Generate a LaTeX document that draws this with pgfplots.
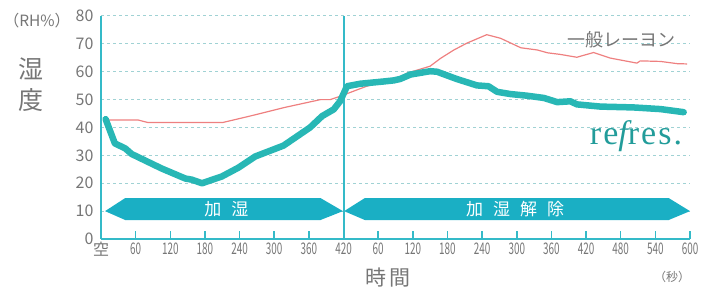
\documentclass[border=0pt]{standalone}
\usepackage{pgfplots}
\pgfplotsset{compat=1.18}
\usepackage{fontspec}
\setmainfont{Noto Sans CJK JP}
\newfontfamily\logofont[LetterSpace=6]{Liberation Serif}
\definecolor{tealline}{RGB}{40,183,181}
\definecolor{axisc}{RGB}{52,186,200}
\definecolor{banner}{RGB}{26,175,196}
\definecolor{redl}{RGB}{238,128,128}
\definecolor{gridc}{RGB}{160,210,212}
\definecolor{txt}{RGB}{118,118,118}
\newcommand\cn[1]{\scalebox{0.62}[1]{#1}}
\begin{document}
\begin{tikzpicture}[x=1pt,y=1pt]
\path[use as bounding box] (0,0) rectangle (714,289);
\begin{axis}[
  at={(101pt,50pt)}, anchor=south west,
  scale only axis, width=589pt, height=223pt,
  xmin=0, xmax=1020, ymin=0, ymax=80,
  clip=false,
  axis x line*=bottom, axis y line*=left,
  axis line style={draw=axisc, line width=2pt, -},
  xtick={0,60,...,1020},
  xticklabels={空,\cn{60},\cn{120},\cn{180},\cn{240},\cn{300},\cn{360},\cn{420},\cn{60},\cn{120},\cn{180},\cn{240},\cn{300},\cn{360},\cn{420},\cn{480},\cn{540},\cn{600}},
  ytick={0,10,...,80},
  yticklabels={0,10,20,30,40,50,60,70,80},
  tick align=inside,
  major tick length=8pt,
  xtick style={draw=axisc, line width=1.5pt},
  ytick style={draw=none},
  xticklabel style={font=\fontsize{16}{16}\selectfont, text=txt},
  yticklabel style={font=\fontsize{16}{16}\selectfont, text=txt, xshift=-4pt},
  ymajorgrids,
  grid style={gridc, dash pattern=on 3pt off 3pt, line width=1pt},
]
% banners
\fill[banner] (axis cs:7,10) -- (axis cs:42,14.7) -- (axis cs:380,14.7) -- (axis cs:419,10) -- (axis cs:380,6.8) -- (axis cs:42,6.8) -- cycle;
\fill[banner] (axis cs:421,10) -- (axis cs:457,14.7) -- (axis cs:983,14.7) -- (axis cs:1020,10) -- (axis cs:983,6.8) -- (axis cs:457,6.8) -- cycle;
\node[text=white, font=\fontsize{17}{17}\selectfont] at (axis cs:217,10.6) {加\hspace{10pt}湿};
\node[text=white, font=\fontsize{17}{17}\selectfont] at (axis cs:717,10.6) {加\hspace{10pt}湿\hspace{10pt}解\hspace{10pt}除};
% vertical divider
\draw[axisc, line width=2pt] (axis cs:420,0) -- (axis cs:420,80);
% general rayon
\addplot[redl, line width=1.2pt, line join=round] coordinates {
(12,42.7) (64,42.7) (81,41.8) (211,41.8) (258,44.1) (316,47.1) (380,50) (397,50)
(414,51.2) (460,54.8) (518,58) (530,59.5) (570,62) (588,64.8) (611,67.8) (634,70.3)
(668,73.3) (692,72) (727,68.6) (756,67.8) (773,66.8) (796,66.2) (824,65.2) (853,66.9)
(882,64.9) (928,63.1) (934,63.9) (969,63.7) (998,62.9) (1015,62.8)};
% refres
\addplot[tealline, line width=6.5pt, line join=round, line cap=round] coordinates {
(8,43) (24,34.3) (42,32.5) (53,30.5) (105,25.3) (146,21.7) (157,21.3) (175,20)
(189,21) (209,22.4) (238,25.6) (267,29.6) (316,33.5) (362,40) (383,44.1) (403,46.5)
(414,49.4) (426,54.8) (449,55.7) (489,56.5) (507,56.9) (518,57.4) (536,59) (570,60.2)
(582,60) (616,57.4) (651,55.1) (671,54.8) (686,52.8) (709,52) (738,51.4) (767,50.6)
(790,49.1) (813,49.4) (824,48.3) (865,47.5) (922,47.2) (969,46.6) (1009,45.5)};
\end{axis}
% texts
\node[text=txt, font=\fontsize{15.5}{15.5}\selectfont] at (37,268) {（RH\%）};
\node[text=txt, font=\fontsize{25}{25}\selectfont] at (31,220) {湿};
\node[text=txt, font=\fontsize{25}{25}\selectfont] at (31,189) {度};
\node[text=txt, font=\fontsize{18}{18}\selectfont] at (621,249) {一般レーヨン};
\node[text=tealline!85!black, font=\logofont\fontsize{34}{34}\selectfont, anchor=base] at (636,144) {re{\itshape f}res.};
\node[text=txt, font=\fontsize{21}{21}\selectfont] at (388,11) {時\hspace{3pt}間};
\node[text=txt, font=\fontsize{12}{12}\selectfont] at (672,12) {（秒）};
\end{tikzpicture}
\end{document}
